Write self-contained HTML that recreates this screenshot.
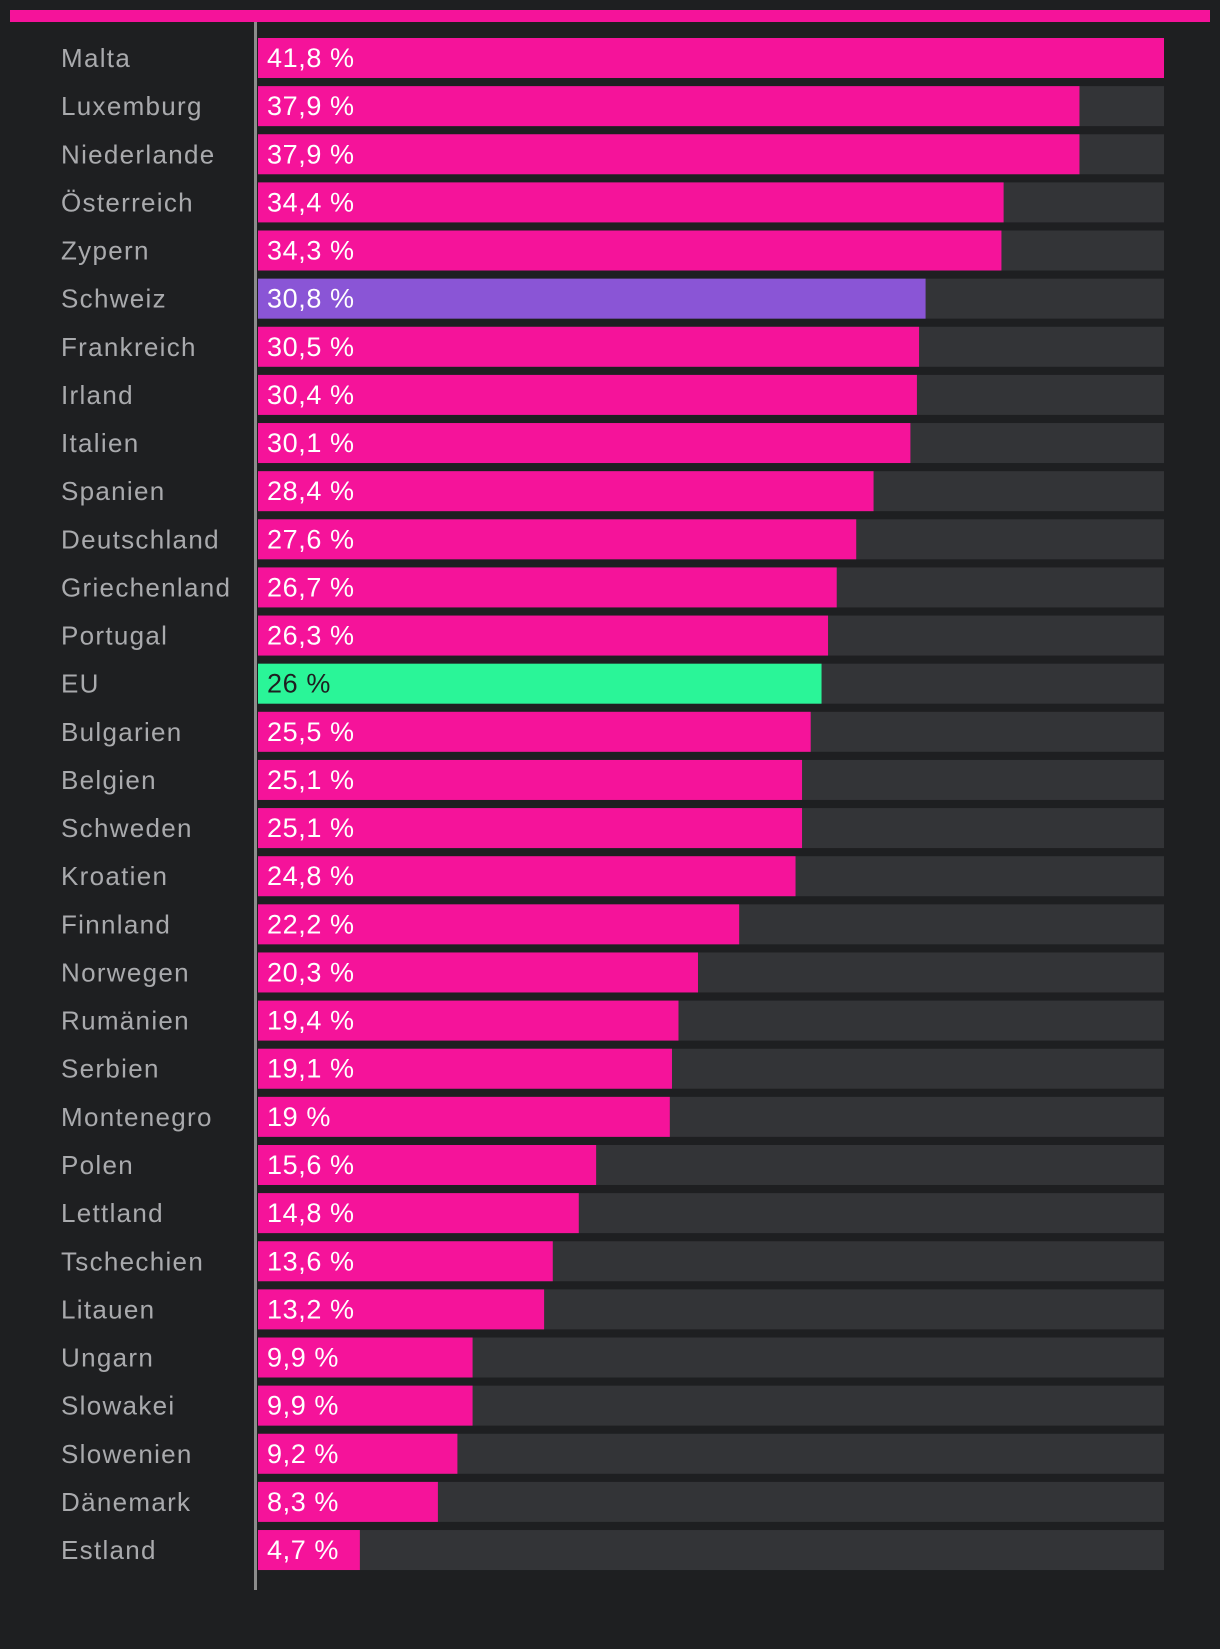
<!DOCTYPE html>
<html><head><meta charset="utf-8"><style>
html,body{margin:0;padding:0;background:#1e1f21;}
body{width:1220px;height:1644px;position:relative;overflow:hidden;font-family:"Liberation Sans",sans-serif;}
</style></head><body>
<svg id="chart" width="1220" height="1644" xmlns="http://www.w3.org/2000/svg"></svg>
<script>
const categories=["Malta","Luxemburg","Niederlande","Österreich","Zypern","Schweiz","Frankreich","Irland","Italien","Spanien","Deutschland","Griechenland","Portugal","EU","Bulgarien","Belgien","Schweden","Kroatien","Finnland","Norwegen","Rumänien","Serbien","Montenegro","Polen","Lettland","Tschechien","Litauen","Ungarn","Slowakei","Slowenien","Dänemark","Estland"];
const values=[41.8,37.9,37.9,34.4,34.3,30.8,30.5,30.4,30.1,28.4,27.6,26.7,26.3,26,25.5,25.1,25.1,24.8,22.2,20.3,19.4,19.1,19,15.6,14.8,13.6,13.2,9.9,9.9,9.2,8.3,4.7];
const valueLabels=["41,8 %","37,9 %","37,9 %","34,4 %","34,3 %","30,8 %","30,5 %","30,4 %","30,1 %","28,4 %","27,6 %","26,7 %","26,3 %","26 %","25,5 %","25,1 %","25,1 %","24,8 %","22,2 %","20,3 %","19,4 %","19,1 %","19 %","15,6 %","14,8 %","13,6 %","13,2 %","9,9 %","9,9 %","9,2 %","8,3 %","4,7 %"];
const NS="http://www.w3.org/2000/svg";
const svg=document.getElementById('chart');
const x0=258,x1=1164,top0=38,pitch=48.13,bh=40;
const maxV=Math.max(...values);
const xs=v=>(v/maxV)*(x1-x0);
const ys=i=>top0+i*pitch;
function mk(t,a){const e=document.createElementNS(NS,t);for(const k in a)e.setAttribute(k,a[k]);svg.appendChild(e);return e;}
const hb=mk('rect',{x:10,y:10,width:1200,height:12,fill:'#f5139a'});


categories.forEach((c,i)=>{
  const y=ys(i);
  const bg=mk('rect',{x:x0,y:y,width:x1-x0,height:bh,fill:'#333437'});
  
  
  const col=c==='Schweiz'?'#8a55d6':(c==='EU'?'#2af598':'#f5139a');
  const b=mk('rect',{x:x0,y:y,width:xs(values[i]),height:bh,fill:col});
  
  
  const l=mk('text',{x:61,y:y+29,fill:'#a9aaad','font-size':'26','letter-spacing':'1.3'});
  l.textContent=c;
  
  
  const v=mk('text',{x:267,y:y+29,fill:c==='EU'?'#1e1f21':'#ffffff','font-size':'27','letter-spacing':'0.6'});
  v.textContent=valueLabels[i];
  
  
});
const ax=mk('rect',{x:254,y:22,width:3,height:1568,fill:'#8c8c8c'});


</script>
</body></html>
